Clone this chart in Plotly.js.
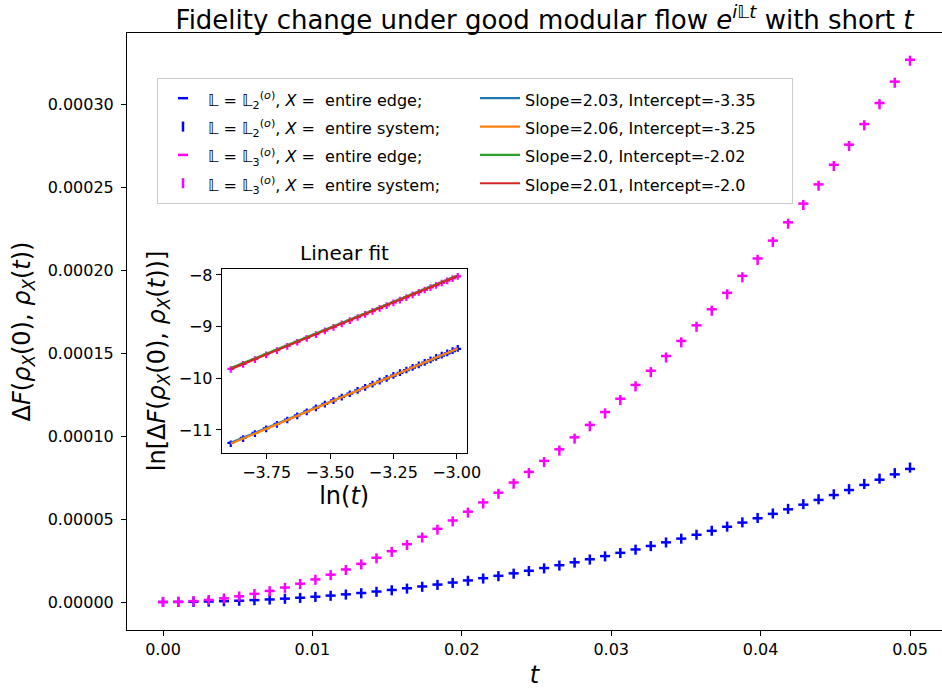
<!DOCTYPE html>
<html><head><meta charset="utf-8">
<script src="https://cdn.plot.ly/plotly-3.0.1.min.js"></script>
<style>html,body{margin:0;padding:0;background:#fff}</style>
</head><body><div id="chart" style="width:942px;height:689px"></div>
<script>
// time grid (50 points, 0 .. 0.05)
const t = [0, 0.00102, 0.00204, 0.00306, 0.00408, 0.00510, 0.00612, 0.00714, 0.00816, 0.00918,
  0.01020, 0.01122, 0.01224, 0.01327, 0.01429, 0.01531, 0.01633, 0.01735, 0.01837, 0.01939,
  0.02041, 0.02143, 0.02245, 0.02347, 0.02449, 0.02551, 0.02653, 0.02755, 0.02857, 0.02959,
  0.03061, 0.03163, 0.03265, 0.03367, 0.03469, 0.03571, 0.03673, 0.03776, 0.03878, 0.03980,
  0.04082, 0.04184, 0.04286, 0.04388, 0.04490, 0.04592, 0.04694, 0.04796, 0.04898, 0.05];

// L = L2, X = entire edge
const blueEdge = [0, 2.97e-8, 1.213e-7, 2.764e-7, 4.956e-7, 7.795e-7, 1.1286e-6, 1.5434e-6, 2.0240e-6, 2.5706e-6,
  3.1836e-6, 3.8634e-6, 4.6098e-6, 5.4230e-6, 6.3032e-6, 7.2510e-6, 8.2657e-6, 9.3487e-6, 1.04986e-5, 1.17162e-5,
  1.30020e-5, 1.43558e-5, 1.57780e-5, 1.72673e-5, 1.88256e-5, 2.04524e-5, 2.21473e-5, 2.39104e-5, 2.57427e-5, 2.76432e-5,
  2.96127e-5, 3.16506e-5, 3.37586e-5, 3.59345e-5, 3.81789e-5, 4.04936e-5, 4.28768e-5, 4.53293e-5, 4.78502e-5, 5.04415e-5,
  5.31011e-5, 5.58314e-5, 5.86303e-5, 6.14980e-5, 6.44357e-5, 6.74446e-5, 7.05216e-5, 7.36693e-5, 7.68856e-5, 8.01725e-5];

// L = L2, X = entire system
const blueSystem = [0, 2.67e-8, 1.114e-7, 2.567e-7, 4.644e-7, 7.354e-7, 1.0704e-6, 1.4707e-6, 1.9364e-6, 2.4681e-6,
  3.0662e-6, 3.7316e-6, 4.4642e-6, 5.2643e-6, 6.1326e-6, 7.0692e-6, 8.0741e-6, 9.1483e-6, 1.02915e-5, 1.15038e-5,
  1.27858e-5, 1.41382e-5, 1.55603e-5, 1.70520e-5, 1.86150e-5, 2.02474e-5, 2.19516e-5, 2.37259e-5, 2.55712e-5, 2.74890e-5,
  2.94768e-5, 3.15365e-5, 3.36691e-5, 3.58721e-5, 3.81476e-5, 4.04949e-5, 4.29146e-5, 4.54063e-5, 4.79689e-5, 5.06062e-5,
  5.33160e-5, 5.60974e-5, 5.89545e-5, 6.18810e-5, 6.48832e-5, 6.79570e-5, 7.11055e-5, 7.43248e-5, 7.76196e-5, 8.09900e-5];

// L = L3, X = entire edge
const magentaEdge = [0, 1.3606e-7, 5.4424e-7, 1.22451e-6, 2.1770e-6, 3.4013e-6, 4.8975e-6, 6.6668e-6, 8.7078e-6, 1.10207e-5,
  1.36054e-5, 1.64631e-5, 1.95927e-5, 2.29940e-5, 2.66671e-5, 3.06134e-5, 3.48301e-5, 3.93212e-5, 4.40828e-5, 4.91163e-5,
  5.44228e-5, 6.00011e-5, 6.58525e-5, 7.19743e-5, 7.83693e-5, 8.50361e-5, 9.19747e-5, 9.91864e-5, 1.066685e-4, 1.144238e-4,
  1.224522e-4, 1.307510e-4, 1.393230e-4, 1.481667e-4, 1.572822e-4, 1.666709e-4, 1.763300e-4, 1.862636e-4, 1.964676e-4, 2.069447e-4,
  2.176923e-4, 2.287130e-4, 2.400055e-4, 2.515711e-4, 2.634072e-4, 2.755177e-4, 2.878987e-4, 3.005515e-4, 3.134774e-4, 3.266750e-4];

// L = L3, X = entire system
const magentaSystem = [0, 1.3061e-7, 5.2610e-7, 1.18851e-6, 2.1191e-6, 3.3182e-6, 4.7866e-6, 6.5258e-6, 8.5351e-6, 1.08150e-5,
  1.33655e-5, 1.61883e-5, 1.92824e-5, 2.26478e-5, 2.62851e-5, 3.01955e-5, 3.43769e-5, 3.88333e-5, 4.35605e-5, 4.85604e-5,
  5.38350e-5, 5.93818e-5, 6.52034e-5, 7.12967e-5, 7.76641e-5, 8.43052e-5, 9.12205e-5, 9.84093e-5, 1.058709e-4, 1.136097e-4,
  1.216219e-4, 1.299073e-4, 1.384684e-4, 1.473029e-4, 1.564120e-4, 1.657968e-4, 1.754553e-4, 1.853886e-4, 1.955985e-4, 2.060827e-4,
  2.168387e-4, 2.278750e-4, 2.391827e-4, 2.507678e-4, 2.626263e-4, 2.747616e-4, 2.871721e-4, 2.998568e-4, 3.128195e-4, 3.260540e-4];

// linear fits of ln(dF) vs ln(t), in the order of the four series above
const fitSlopes = ['2.03', '2.06', '2.0', '2.01'];
const fitIntercepts = ['-3.35', '-3.25', '-2.02', '-2.0'];
const fitStartIndex = 20; // first point used in the inset

const seriesNames = [
  '𝕃 = 𝕃<sub>2</sub><sup>(<i>o</i>)</sup>, <i>X</i> =  entire edge;',
  '𝕃 = 𝕃<sub>2</sub><sup>(<i>o</i>)</sup>, <i>X</i> =  entire system;',
  '𝕃 = 𝕃<sub>3</sub><sup>(<i>o</i>)</sup>, <i>X</i> =  entire edge;',
  '𝕃 = 𝕃<sub>3</sub><sup>(<i>o</i>)</sup>, <i>X</i> =  entire system;'
];

const seriesData = [blueEdge, blueSystem, magentaEdge, magentaSystem];
const seriesColors = ['#0000ff', '#0000ff', '#ff00ff', '#ff00ff'];
const seriesSymbols = ['line-ew', 'line-ns', 'line-ew', 'line-ns'];
const fitColors = ['#1f77b4', '#ff7f0e', '#2ca02c', '#d62728'];

const span = s => '<span style="font-size:16px">' + s + '</span>';

const traces = [];
// main plot markers
seriesData.forEach((ys, i) => {
  traces.push({
    type: 'scatter', mode: 'markers', x: t, y: ys, xaxis: 'x', yaxis: 'y',
    name: span(seriesNames[i]), legendrank: 2 * i + 1, showlegend: true,
    marker: {symbol: seriesSymbols[i], size: 7.2, color: seriesColors[i],
             line: {color: seriesColors[i], width: 2.5}},
    hoverinfo: 'skip'
  });
});
// inset markers (log-log)
const lnT = t.slice(fitStartIndex).map(v => Math.log(v));
seriesData.forEach((ys, i) => {
  traces.push({
    type: 'scatter', mode: 'markers', x: lnT, y: ys.slice(fitStartIndex).map(v => Math.log(v)),
    xaxis: 'x2', yaxis: 'y2', showlegend: false,
    marker: {symbol: seriesSymbols[i], size: 4.8, color: seriesColors[i],
             line: {color: seriesColors[i], width: 2.2}},
    hoverinfo: 'skip'
  });
});
// inset fit lines
const xFit = [lnT[0], lnT[lnT.length - 1]];
fitSlopes.forEach((s, i) => {
  const a = parseFloat(s), b = parseFloat(fitIntercepts[i]);
  traces.push({
    type: 'scatter', mode: 'lines', x: xFit, y: xFit.map(x => a * x + b),
    xaxis: 'x2', yaxis: 'y2', name: span('Slope=' + s + ', Intercept=' + fitIntercepts[i]),
    legendrank: 2 * i + 2, showlegend: true,
    line: {color: fitColors[i], width: 2.2}, hoverinfo: 'skip'
  });
});

const axisCommon = {
  ticks: 'outside', ticklen: 5, tickwidth: 1, tickcolor: 'black',
  showline: true, mirror: true, linecolor: 'black', linewidth: 1,
  showgrid: false, zeroline: false, automargin: false
};

const layout = {
  width: 942, height: 689,
  margin: {l: 127, r: 0, t: 33, b: 59, pad: 0},
  paper_bgcolor: 'white', plot_bgcolor: 'white',
  font: {family: 'DejaVu Sans', size: 16, color: 'black'},
  title: {text: 'Fidelity change under good modular flow <i>e</i><sup><i>i</i>𝕃<i>t</i></sup> with short <i>t</i>',
          x: 0.578, xanchor: 'center', y: 0.971, yanchor: 'middle', font: {size: 26}},
  showlegend: true,
  legend: {orientation: 'h', x: 0.0368, y: 0.9246, xanchor: 'left', yanchor: 'top',
           entrywidth: 262, entrywidthmode: 'pixels', itemwidth: 40,
           bgcolor: 'rgba(255,255,255,0.8)', bordercolor: '#cccccc', borderwidth: 1,
           font: {size: 19.5}, traceorder: 'normal'},
  xaxis: Object.assign({}, axisCommon, {
    domain: [0, 1], anchor: 'y', range: [-0.0024096, 0.052142],
    tickvals: [0, 0.01, 0.02, 0.03, 0.04, 0.05], tickformat: '.2f',
    title: {text: '<i>t</i>', font: {size: 24}, standoff: 8}
  }),
  yaxis: Object.assign({}, axisCommon, {
    domain: [0, 1], anchor: 'x', range: [-1.6867e-5, 3.42771e-4],
    tickvals: [0, 0.00005, 0.0001, 0.00015, 0.0002, 0.00025, 0.0003], tickformat: '.5f',
    ticklabelstandoff: 4,
    title: {text: 'Δ<i>F</i>(<i>ρ</i><sub><i>X</i></sub>(0), <i>ρ</i><sub><i>X</i></sub>(<i>t</i>))', font: {size: 24}, standoff: 10}
  }),
  xaxis2: Object.assign({}, axisCommon, {
    domain: [0.1162, 0.4168], anchor: 'y2', range: [-3.9275, -2.9605],
    tickvals: [-3.75, -3.5, -3.25, -3.0], tickformat: '.2f',
    title: {text: 'ln(<i>t</i>)', font: {size: 24}, standoff: 6}
  }),
  yaxis2: Object.assign({}, axisCommon, {
    domain: [0.2970, 0.6042], anchor: 'x2', range: [-11.44, -7.89],
    tickvals: [-11, -10, -9, -8], tickformat: 'd',
    title: {text: 'ln[Δ<i>F</i>(<i>ρ</i><sub><i>X</i></sub>(0), <i>ρ</i><sub><i>X</i></sub>(<i>t</i>))]', font: {size: 24}, standoff: 6}
  }),
  annotations: [{
    text: 'Linear fit', xref: 'paper', yref: 'paper', x: 0.2663, y: 0.6315,
    xanchor: 'center', yanchor: 'middle', showarrow: false, font: {size: 20}
  }]
};

Plotly.newPlot('chart', traces, layout, {displayModeBar: false, staticPlot: true});
</script>
</body></html>
